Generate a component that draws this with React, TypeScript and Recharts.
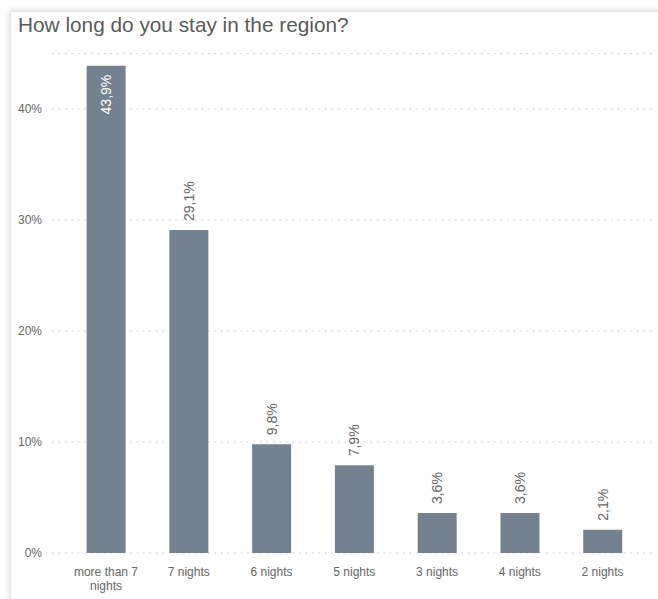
import { BarChart, Bar, XAxis, YAxis, CartesianGrid, LabelList, Text } from 'recharts';

const categories = ['more than 7 nights', '7 nights', '6 nights', '5 nights', '3 nights', '4 nights', '2 nights'];
const shares = [43.9, 29.1, 9.8, 7.9, 3.6, 3.6, 2.1];
const yTicks = [0, 10, 20, 30, 40];

const data = categories.map((name, i) => ({ name, value: shares[i] }));

const FONT = '"Liberation Sans", Arial, sans-serif';
const BAR = '#74828f';

function fmt(v: number) {
  return v.toFixed(1).replace('.', ',') + '%';
}

function CategoryTick(props: any) {
  const { x, y, payload } = props;
  return (
    <Text
      x={x}
      y={y}
      width={86}
      textAnchor="middle"
      verticalAnchor="start"
      fontSize={12}
      fill="#666"
      fontFamily={FONT}
      lineHeight={14}
    >
      {payload.value}
    </Text>
  );
}

function ValueLabel(props: any) {
  const { x, y, width, value } = props;
  const cx = x + width / 2;
  const inside = value > 40;
  const ty = inside ? y + 9 : y - 9;
  return (
    <text
      x={cx}
      y={ty}
      transform={`rotate(-90 ${cx} ${ty})`}
      textAnchor={inside ? 'end' : 'start'}
      dominantBaseline="central"
      fontSize={14}
      fontFamily={FONT}
      fill={inside ? '#fff' : '#666'}
    >
      {fmt(value)}
    </text>
  );
}

export default function App() {
  return (
    <div style={{ position: 'fixed', left: 0, top: 0, width: 658, height: 599, overflow: 'hidden', background: '#fff' }}>
      <div
        style={{
          position: 'absolute',
          left: 11,
          top: 12,
          width: 700,
          height: 650,
          background: '#fff',
          boxShadow: '-2px -2px 5px rgba(0,0,0,0.14)',
        }}
      />
      <div
        style={{
          position: 'absolute',
          left: 18,
          top: 11,
          fontFamily: FONT,
          fontSize: 20.8,
          color: '#5a5a5a',
          lineHeight: '28px',
        }}
      >
        How long do you stay in the region?
      </div>
      <div style={{ position: 'absolute', left: 0, top: 0 }}>
        <BarChart width={658} height={599} data={data} margin={{ top: 53.5, right: 3, bottom: 0, left: 0 }}>
          <CartesianGrid vertical={false} stroke="#c8c8c8" strokeDasharray="1.5 5" />
          <XAxis
            dataKey="name"
            height={46}
            axisLine={false}
            tickLine={false}
            tickSize={0}
            tickMargin={14}
            padding={{ left: 12.6, right: 11 }}
            interval={0}
            tick={<CategoryTick />}
          />
          <YAxis
            domain={[0, 45]}
            ticks={yTicks}
            width={52}
            axisLine={false}
            tickLine={false}
            tickSize={0}
            tickMargin={10}
            tickFormatter={(v: number) => `${v}%`}
            tick={{ fontSize: 12, fill: '#666', fontFamily: FONT }}
          />
          <Bar dataKey="value" fill={BAR} barSize={39} isAnimationActive={false}>
            <LabelList dataKey="value" content={<ValueLabel />} />
          </Bar>
        </BarChart>
      </div>
    </div>
  );
}
